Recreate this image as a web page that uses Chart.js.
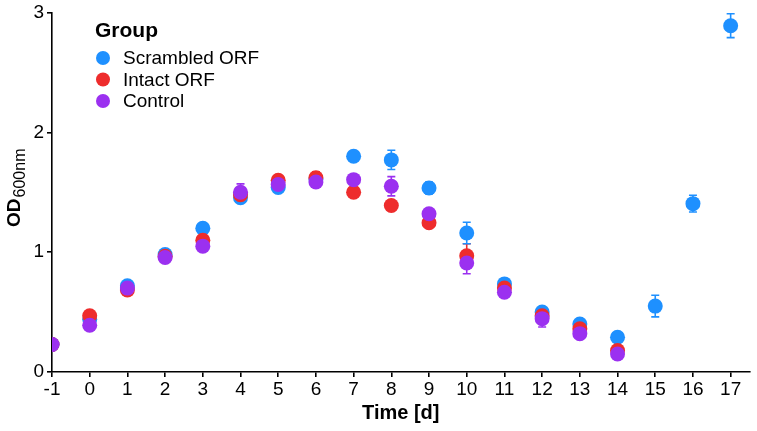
<!DOCTYPE html>
<html>
<head>
<meta charset="utf-8">
<script src="https://cdn.jsdelivr.net/npm/chart.js@4.4.1/dist/chart.umd.min.js"></script>
<style>
  html, body { margin: 0; padding: 0; background: #ffffff; }
  #wrap { width: 757px; height: 431px; }
</style>
</head>
<body>
<div id="wrap"><canvas id="odChart" width="757" height="431"></canvas></div>
<script>
// ---- data ----
const days = [-1, 0, 1, 2, 3, 4, 5, 6, 7, 8, 9, 10, 11, 12, 13, 14, 15, 16, 17];
const xTicks = [-1, 0, 1, 2, 3, 4, 5, 6, 7, 8, 9, 10, 11, 12, 13, 14, 15, 16, 17];
const yTicks = [0, 1, 2, 3];

const groupNames = ['Scrambled ORF', 'Intact ORF', 'Control'];
const groupColors = ['#1E90FF', '#EE2C2C', '#9B30F0'];

// mean OD600 per day
const scrambledOD = [0.23, 0.44, 0.72, 0.98, 1.20, 1.455, 1.54, 1.61, 1.80, 1.77, 1.535, 1.16, 0.735, 0.50, 0.40, 0.29, 0.55, 1.405, 2.89];
const intactOD    = [0.23, 0.47, 0.685, 0.965, 1.10, 1.48, 1.60, 1.62, 1.50, 1.39, 1.245, 0.97, 0.70, 0.47, 0.36, 0.18, null, null, null];
const controlOD   = [0.23, 0.39, 0.70, 0.955, 1.05, 1.50, 1.565, 1.585, 1.605, 1.55, 1.32, 0.91, 0.665, 0.445, 0.32, 0.15, null, null, null];

// standard error (half bar length)
const scrambledErr = [0.02, 0.03, 0.03, 0.03, 0.04, 0.03, 0.03, 0.04, 0.04, 0.08, 0.05, 0.09, 0.03, 0.04, 0.03, 0.04, 0.09, 0.07, 0.10];
const intactErr    = [0.02, 0.03, 0.03, 0.03, 0.04, 0.03, 0.04, 0.05, 0.03, 0.03, 0.03, 0.10, 0.04, 0.05, 0.03, 0.03, null, null, null];
const controlErr   = [0.02, 0.03, 0.03, 0.03, 0.04, 0.07, 0.03, 0.04, 0.03, 0.08, 0.04, 0.09, 0.04, 0.07, 0.04, 0.04, null, null, null];

const FONT = '"Liberation Sans", Arial, sans-serif';

function toPoints(vals) {
  return days.map((d, i) => ({ x: d, y: vals[i] }));
}

const seriesVals = [scrambledOD, intactOD, controlOD];
const seriesErr = [scrambledErr, intactErr, controlErr];

// ---- error bars, drawn through the chart scales ----
const errorBarPlugin = {
  id: 'errorBars',
  beforeDatasetsDraw(chart) {
    const { ctx, chartArea, scales: { x, y } } = chart;
    ctx.save();
    ctx.beginPath();
    ctx.rect(chartArea.left, chartArea.top, chartArea.right - chartArea.left, chartArea.bottom - chartArea.top);
    ctx.clip();
    ctx.lineWidth = 1.6;
    for (let g = seriesVals.length - 1; g >= 0; g--) {
      ctx.strokeStyle = groupColors[g];
      seriesVals[g].forEach((v, i) => {
        const e = seriesErr[g][i];
        if (v == null || e == null) return;
        const px = x.getPixelForValue(days[i]);
        const top = y.getPixelForValue(v + e);
        const bot = y.getPixelForValue(v - e);
        ctx.beginPath();
        ctx.moveTo(px, top); ctx.lineTo(px, bot);
        ctx.moveTo(px - 4, top); ctx.lineTo(px + 4, top);
        ctx.moveTo(px - 4, bot); ctx.lineTo(px + 4, bot);
        ctx.stroke();
      });
    }
    ctx.restore();
  }
};

// ---- y title with subscript + legend box ----
const decorPlugin = {
  id: 'decor',
  afterDraw(chart) {
    const { ctx, chartArea } = chart;
    ctx.save();
    // y axis title: OD with subscript 600nm
    const cy = (chartArea.top + chartArea.bottom) / 2 - 4;
    ctx.translate(20, cy);
    ctx.rotate(-Math.PI / 2);
    ctx.fillStyle = '#000';
    ctx.textBaseline = 'alphabetic';
    ctx.font = 'bold 19px ' + FONT;
    const wOD = ctx.measureText('OD').width;
    ctx.font = '16px ' + FONT;
    const wSub = ctx.measureText('600nm').width;
    const x0 = -(wOD + wSub) / 2;
    ctx.font = 'bold 19px ' + FONT;
    ctx.fillText('OD', x0, 0);
    ctx.font = '16px ' + FONT;
    ctx.fillText('600nm', x0 + wOD + 1, 5);
    ctx.restore();

    // legend
    ctx.save();
    ctx.fillStyle = '#000';
    ctx.textBaseline = 'middle';
    ctx.font = 'bold 21px ' + FONT;
    ctx.fillText('Group', 95, 31);
    ctx.font = '19px ' + FONT;
    groupNames.forEach((name, i) => {
      const yy = 58 + i * 21.5;
      ctx.fillStyle = groupColors[i];
      ctx.beginPath();
      ctx.arc(103, yy, 7, 0, Math.PI * 2);
      ctx.fill();
      ctx.fillStyle = '#000';
      ctx.fillText(name, 123, yy + 1);
    });
    ctx.restore();
  }
};

const ctx = document.getElementById('odChart');
new Chart(ctx, {
  type: 'scatter',
  data: {
    datasets: groupNames.map((name, g) => ({
      label: name,
      data: toPoints(seriesVals[g]),
      backgroundColor: groupColors[g],
      borderColor: groupColors[g],
      borderWidth: 0,
      pointRadius: 7.5,
      pointHoverRadius: 7.5,
      order: 3 - g
    }))
  },
  options: {
    responsive: false,
    animation: false,
    devicePixelRatio: 1,
    layout: { padding: { top: 10, right: 5, left: 0, bottom: 6 } },
    plugins: {
      legend: { display: false },
      tooltip: { enabled: false }
    },
    scales: {
      x: {
        type: 'linear',
        min: -1,
        max: 17.5,
        afterBuildTicks: axis => { axis.ticks = xTicks.map(v => ({ value: v })); },
        afterFit: axis => { axis.height = 53; },
        border: { color: '#000', width: 1.6 },
        grid: { drawOnChartArea: false, color: '#000', tickLength: 5, lineWidth: 1.6 },
        ticks: { color: '#000', font: { family: FONT, size: 19 }, padding: 1, maxRotation: 0, autoSkip: false },
        title: { display: true, text: 'Time [d]', color: '#000', font: { family: FONT, size: 20, weight: 'bold' }, padding: { top: 0, bottom: 0 } }
      },
      y: {
        min: 0,
        max: 3,
        afterBuildTicks: axis => { axis.ticks = yTicks.map(v => ({ value: v })); },
        afterFit: axis => { axis.width = 52; },
        border: { color: '#000', width: 1.6 },
        grid: { drawOnChartArea: false, color: '#000', tickLength: 5, lineWidth: 1.6 },
        ticks: { color: '#000', font: { family: FONT, size: 19, lineHeight: 1 }, padding: 3 }
      }
    }
  },
  plugins: [errorBarPlugin, decorPlugin]
});
</script>
</body>
</html>
